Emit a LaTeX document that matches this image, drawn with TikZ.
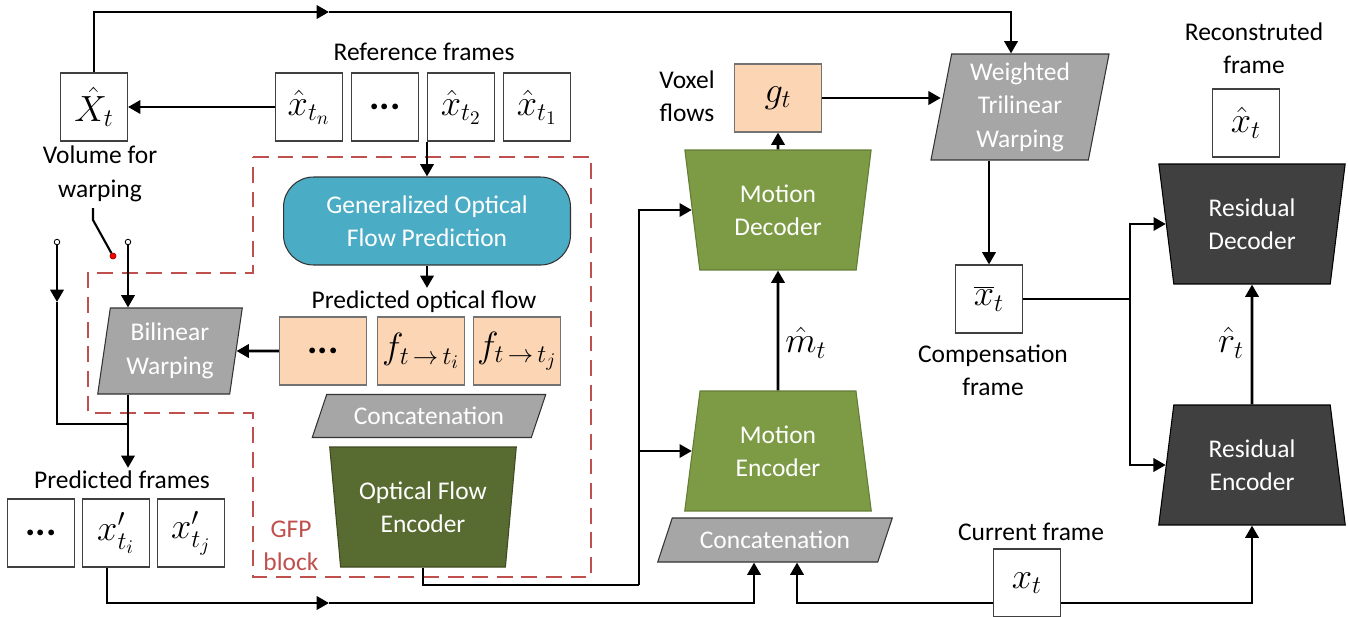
\documentclass[tikz,border=0pt]{standalone}
\usepackage[dvipsnames]{xcolor}
\usepackage{fontspec}
\setmainfont{Carlito}
\usetikzlibrary{arrows.meta,shapes.geometric,positioning}

\definecolor{peach}{RGB}{252,213,181}
\definecolor{gofpblue}{RGB}{75,172,198}
\definecolor{warpgray}{RGB}{166,166,166}
\definecolor{motiongreen}{RGB}{124,155,68}
\definecolor{flowgreen}{RGB}{88,107,48}
\definecolor{resgray}{RGB}{64,64,64}
\definecolor{gfpred}{RGB}{192,80,77}

\begin{document}
\begin{tikzpicture}[x=0.02cm,y=-0.02cm,>={Triangle[length=7pt,width=7.5pt]},line width=1.6pt,
    font=\fontsize{14.5}{19}\selectfont,
    frame/.style={draw=black!75,line width=0.6pt,fill=white,minimum width=1.34cm,minimum height=1.36cm,inner sep=0pt,font=\fontsize{22}{26}\selectfont},
    flow/.style={frame,fill=peach,draw=black!55,minimum width=1.74cm},
    coder/.style={trapezium,trapezium stretches=true,trapezium left angle=81,trapezium right angle=81,minimum width=3.74cm,minimum height=2.4cm,text=white,align=center,line width=0.6pt,inner sep=1pt},
    decoder/.style={coder,shape border rotate=180},
    slanted/.style={trapezium,trapezium stretches=true,fill=warpgray,draw=black!80,line width=0.6pt,text=white,align=center,inner sep=1pt},
    label/.style={align=center,inner sep=1pt},
    mathlabel/.style={inner sep=1pt,font=\fontsize{22}{26}\selectfont},
    term/.style={circle,draw,line width=0.5pt,fill=white,inner sep=0pt,minimum size=0.11cm}]

    \useasboundingbox (0,0) rectangle (1348,616);

    % GFP block
    \draw[gfpred,line width=1.1pt,dash pattern=on 9pt off 5pt] (253,157) -- (591,157) -- (591,577) -- (253,577)
        -- (253,413) -- (88,413) -- (88,273) -- (253,273) -- cycle;
    \node[label,text=gfpred] (gfplab) at (291,546) {GFP\\block};

    % reference frames
    \node[frame] (Xt) at (94,107) {$\hat{X}_t$};
    \node[frame] (xtn) at (309,107) {$\hat{x}_{t_n}$};
    \node[frame,right=0.16cm of xtn] (rdots) {\textbf{...}};
    \node[frame,right=0.16cm of rdots] (xt2) {$\hat{x}_{t_2}$};
    \node[frame,right=0.16cm of xt2] (xt1) {$\hat{x}_{t_1}$};
    \node[label] (reflab) at (424,52) {Reference frames};
    \node[label] (vollab) at (100,174) {Volume for\\warping};

    % switch
    \node[term] (swl) at (57,242) {};
    \node[term] (swr) at (128,242) {};
    \coordinate (swtop) at (93,208);
    \coordinate (swbend) at (93,220);
    \node[circle,fill=red,draw=red!60!black,line width=0.4pt,inner sep=0pt,minimum size=0.12cm] (swdot) at (113,256) {};
    \draw[line width=1.2pt] (swtop) -- (swbend) -- (swdot);

    % GFP contents
    \node[draw=black!80,line width=0.6pt,fill=gofpblue,rounded corners=0.6cm,minimum width=5.74cm,minimum height=1.76cm,
        text=white,align=center] (gofp) at (427,221) {Generalized Optical\\Flow Prediction};
    \node[label] (poflab) at (424,302) {Predicted optical flow};
    \node[flow] (fdots) at (323,351) {\textbf{...}};
    \node[flow,right=0.2cm of fdots] (fti) {$f_{t\,\rightarrow\,t_i}$};
    \node[flow,right=0.16cm of fti] (ftj) {$f_{t\,\rightarrow\,t_j}$};
    \node[slanted,trapezium left angle=80.75,trapezium right angle=99.25,minimum width=2.9cm,minimum height=1.72cm] (bilin) at (170,351) {Bilinear\\Warping};
    \node[slanted,trapezium left angle=63,trapezium right angle=117,minimum width=4.68cm,minimum height=0.86cm] (concl) at (429,416) {Concatenation};
    \node[decoder,fill=flowgreen,draw=flowgreen!70!black] (ofe) at (423,507) {Optical Flow\\Encoder};

    % predicted frames
    \node[label] (predlab) at (122,480) {Predicted frames};
    \node[frame] (pdots) at (41,533) {\textbf{...}};
    \node[frame,right=0.14cm of pdots] (pti) {$x'_{t_i}$};
    \node[frame,right=0.14cm of pti] (ptj) {$x'_{t_j}$};

    % motion branch
    \node[coder,fill=motiongreen,draw=motiongreen!80!black] (menc) at (778,451) {Motion\\Encoder};
    \node[decoder,fill=motiongreen,draw=motiongreen!80!black] (mdec) at (778,210) {Motion\\Decoder};
    \node[slanted,trapezium left angle=63,trapezium right angle=117,minimum width=4.7cm,minimum height=0.88cm] (concr) at (775,540) {Concatenation};
    \node[flow] (gt) at (778,98) {$g_t$};
    \node[label] (voxlab) at (687,96) {Voxel\\flows};
    \node[mathlabel] (mhat) at (806,343) {$\hat{m}_t$};
    \node[slanted,trapezium left angle=80.4,trapezium right angle=99.6,minimum width=3.58cm,minimum height=2.12cm] (wtw) at (1020,107) {Weighted\\Trilinear\\Warping};

    % residual branch
    \node[frame] (xbar) at (989,299) {$\overline{x}_t$};
    \node[label] (complab) at (993,370) {Compensation\\frame};
    \node[decoder,fill=resgray,draw=black] (rdec) at (1252,224) {Residual\\Decoder};
    \node[coder,fill=resgray,draw=black] (renc) at (1252,465) {Residual\\Encoder};
    \node[frame] (xhat) at (1246,123) {$\hat{x}_t$};
    \node[label] (reclab) at (1254,48) {Reconstruted\\frame};
    \node[mathlabel] (rhat) at (1231,343) {$\hat{r}_t$};
    \node[frame] (xt) at (1027,583) {$x_t$};
    \node[label] (curlab) at (1031,532) {Current frame};

    % connectors
    \coordinate (topmid) at (329,12);
    \draw[->] (Xt.north) |- (topmid);
    \draw[->] (topmid) -| ([xshift=-0.18cm]wtw.north);
    \draw[->] (xtn.west) -- (Xt.east);
    \draw[->] (gofp.north |- xt2.south) -- (gofp.north);
    \draw[->] (gofp.south) -- (gofp.south |- poflab.north);
    \draw[->] (fdots.west) -- (bilin.east);

    \coordinate (swlarr) at (57,302);
    \coordinate (join) at (128,424);
    \draw[->] (swl) -- (swlarr);
    \draw (swlarr) |- (join);
    \draw[->] (swr) -- (swr |- bilin.north);
    \draw[->] (swr |- bilin.south) -- (swr |- predlab.north);

    \coordinate (botmid) at (329,603);
    \draw[->] ([xshift=-0.18cm]pti.south) |- (botmid);
    \draw[->] (botmid) -| ([xshift=-0.42cm]concr.south);
    \draw[->] ([yshift=-0.4cm]xt.west) -| ([xshift=0.44cm]concr.south);
    \draw[->] ([yshift=-0.4cm]xt.east) -| (renc.south);

    \coordinate (ofebus) at (639,585);
    \draw (ofe.south) |- (ofebus);
    \draw[->] (ofebus) |- (mdec.west);
    \draw[->] (ofebus |- menc.west) -- (menc.west);
    \draw[->] (menc.north) -- (mdec.south);
    \draw[->] (mdec.north) -- (gt.south);
    \draw[->] (gt.east) -- (gt.east -| wtw.west);
    \draw[->] (xbar.north |- wtw.south) -- (xbar.north);

    \coordinate (resbus) at (1130,299);
    \draw (xbar.east) -- (resbus);
    \draw[->] (resbus) |- (rdec.west);
    \draw[->] (resbus) |- (renc.west);
    \draw[->] (renc.north) -- (rdec.south);
\end{tikzpicture}
\end{document}
